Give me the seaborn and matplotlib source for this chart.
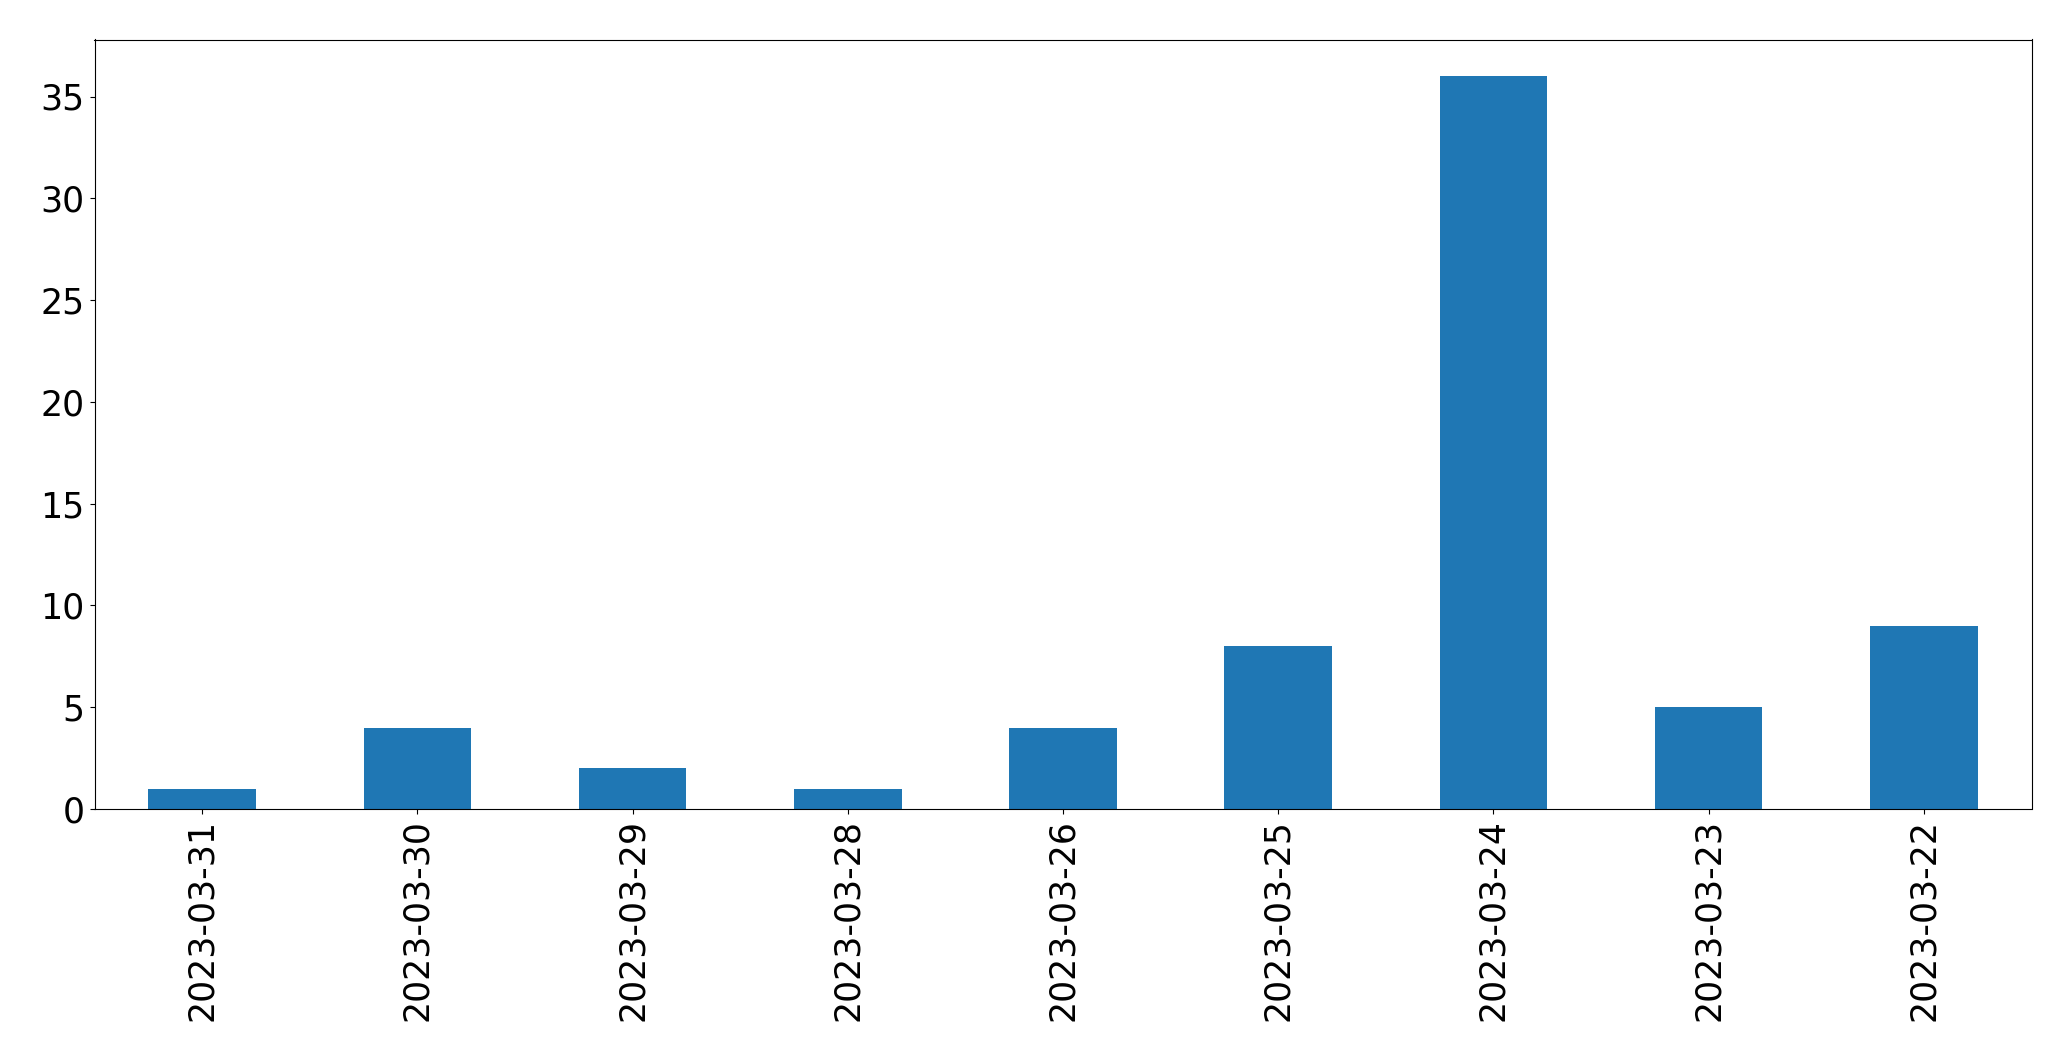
import pandas as pd
import matplotlib
matplotlib.use("Agg")
import matplotlib.pyplot as plt
import seaborn as sns

dates = ["2023-03-31", "2023-03-30", "2023-03-29", "2023-03-28", "2023-03-26",
         "2023-03-25", "2023-03-24", "2023-03-23", "2023-03-22"]
counts = [1, 4, 2, 1, 4, 8, 36, 5, 9]

sns.set_style("white")
plt.rcParams["font.family"] = ["DejaVu Sans"]
df = pd.DataFrame({"date": dates, "count": counts})

fig = plt.figure(figsize=(20.71, 10.61), dpi=100)
ax = fig.add_axes([94.5 / 2071, 1 - 809 / 1061, (2031.5 - 94.5) / 2071, (809 - 39.5) / 1061])
sns.barplot(data=df, x="date", y="count", order=dates, color="#1f77b4",
            saturation=1, width=0.5, linewidth=0, ax=ax)
ax.set_xlim(-0.5, len(dates) - 0.5)
ax.set_ylim(0, max(counts) * 1.05)
ax.set_xlabel("")
ax.set_ylabel("")
for s in ax.spines.values():
    s.set_color("black")
    s.set_linewidth(0.8)
ax.tick_params(axis="both", labelsize=25, length=3.5, width=0.8, color="black",
               labelcolor="black", left=True, bottom=True)
ax.tick_params(axis="x", labelrotation=90)
fig.savefig("out.png", dpi=100)
